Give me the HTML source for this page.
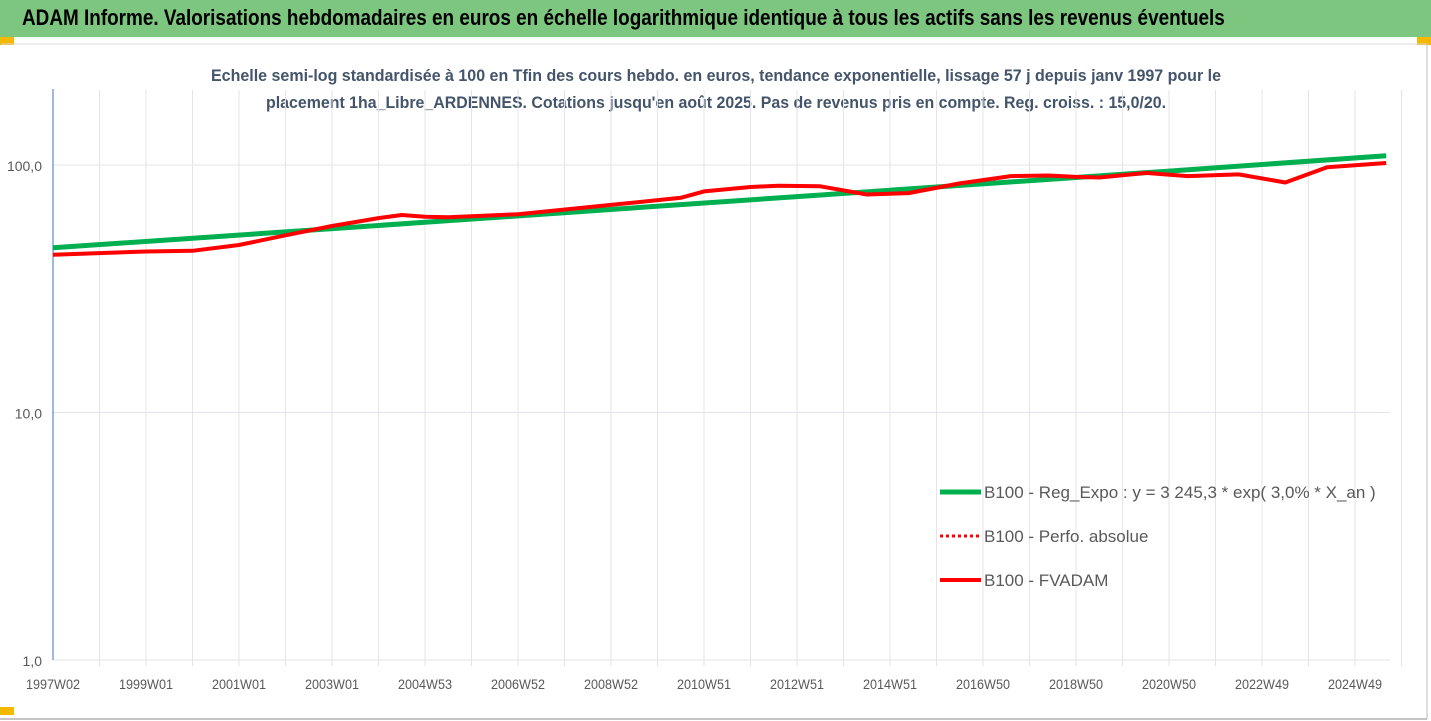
<!DOCTYPE html>
<html><head><meta charset="utf-8">
<style>
body{margin:0;width:1431px;height:721px;overflow:hidden;background:#fff;font-family:"Liberation Sans",sans-serif;}
#bar{position:absolute;left:0;top:0;width:1431px;height:37px;background:#7dc67f;}
#bar span{position:absolute;left:22px;top:5px;font-size:22px;font-weight:bold;color:#000;transform:scaleX(0.86);transform-origin:left;white-space:nowrap;}
.corner{position:absolute;width:14px;height:8px;background:#f5b800;}
svg{position:absolute;left:0;top:0;}
</style></head><body>
<div id="bar"><span>ADAM Informe. Valorisations hebdomadaires en euros en échelle logarithmique identique à tous les actifs sans les revenus éventuels</span></div>
<div class="corner" style="left:0;top:37px"></div>
<div class="corner" style="left:1417px;top:37px"></div>
<div class="corner" style="left:0;top:707px"></div>
<svg id="chart" width="1431" height="721">
<line x1="1" y1="44" x2="1427" y2="44" stroke="#d9d9d9"/>
<line x1="1427" y1="44" x2="1427" y2="719" stroke="#bfbfbf"/>
<line x1="0" y1="719" x2="1427" y2="719" stroke="#888"/>
<text x="716" y="81" text-anchor="middle" font-size="17" font-weight="bold" fill="#44546a" textLength="1010" lengthAdjust="spacingAndGlyphs">Echelle semi-log standardisée à 100 en Tfin des cours hebdo. en euros, tendance exponentielle, lissage 57 j depuis janv 1997 pour le</text>
<text x="716" y="108" text-anchor="middle" font-size="17" font-weight="bold" fill="#44546a" textLength="900" lengthAdjust="spacingAndGlyphs">placement 1ha_Libre_ARDENNES. Cotations jusqu'en août 2025. Pas de revenus pris en compte. Reg. croiss. : 15,0/20.</text>
<g id="grid"></g><g id="series"></g><g id="legend"></g>
</svg>
<script>
const yTicks=[1,10,100];
const yTickLabels=["1,0","10,0","100,0"];
const xTickLabels=["1997W02","1999W01","2001W01","2003W01","2004W53","2006W52","2008W52","2010W51","2012W51","2014W51","2016W50","2018W50","2020W50","2022W49","2024W49"];
const xTickYears=[1997,1999,2001,2003,2005,2007,2009,2011,2013,2015,2017,2019,2021,2023,2025];
const fvYears=[1997,1999,2000,2001,2002,2003,2004,2004.5,2005,2005.5,2007,2009,2010.5,2011,2012,2012.6,2013.5,2014.5,2015.4,2016.5,2017.6,2018.4,2019,2019.5,2020.5,2021.4,2022.5,2023.5,2024.4,2025.67];
const fvValues=[43.4,44.7,45,47.5,52,56.7,61,62.8,61.8,61.5,63.3,69,73.7,78.2,81.5,82.5,82,76,77,84.3,90.2,90.7,89.5,89,92.9,90.2,91.6,85,98,101.9];
const regYears=[1997,2005,2013,2021,2025.67];
const regValues=[46.3,58.7,74.5,94.5,109];
const X0=53,PX=46.5,Y1=660,DEC=247.5;
const xs=y=>X0+(y-1997)*PX;
const ys=v=>Y1-Math.log10(v)*DEC;
const NS="http://www.w3.org/2000/svg";
function mk(tag,attrs,parent){const e=document.createElementNS(NS,tag);for(const k in attrs)e.setAttribute(k,attrs[k]);parent.appendChild(e);return e;}
const grid=document.getElementById('grid');
for(let i=1;i<=29;i++){const x=X0+i*PX;const l=mk('line',{x1:x,y1:90,x2:x,y2:666,stroke:'#e4e4ea'},grid);

}
yTicks.forEach((v,i)=>{const y=ys(v);const l=mk('line',{x1:X0,y1:y,x2:1390,y2:y,stroke:'#e4e4ea'},grid);


const t=mk('text',{x:42,y:y+6,'text-anchor':'end','font-size':14,fill:'#595959'},grid);t.textContent=yTickLabels[i];

});
const ax=mk('line',{x1:X0,y1:89,x2:X0,y2:660,stroke:'#4472c4'},grid);


xTickLabels.forEach((s,i)=>{const t=mk('text',{x:xs(xTickYears[i]),y:689,'text-anchor':'middle','font-size':14,fill:'#595959',textLength:54,lengthAdjust:'spacingAndGlyphs'},grid);t.textContent=s;

});
const ser=document.getElementById('series');
function path(xa,va){return xa.map((y,i)=>(i?'L':'M')+xs(y).toFixed(1)+' '+ys(va[i]).toFixed(1)).join(' ');}
const g=mk('path',{d:path(regYears,regValues),stroke:'#00b050',fill:'none','stroke-width':5},ser);


const r=mk('path',{d:path(fvYears,fvValues),stroke:'#ff0000',fill:'none','stroke-width':4,'stroke-linejoin':'round'},ser);


const lg=document.getElementById('legend');
const items=[["B100 - Reg_Expo : y = 3 245,3 * exp( 3,0% *  X_an )",'#00b050',5,''],["B100 - Perfo. absolue",'#ff0000',3,'3 3'],["B100 - FVADAM",'#ff0000',4,'']];
items.forEach((it,i)=>{const y=492+i*44;const l=mk('line',{x1:940,y1:y,x2:981,y2:y,stroke:it[1],'stroke-width':it[2],'stroke-dasharray':it[3]},lg);


const t=mk('text',{x:984,y:y+6,'font-size':17,fill:'#595959'},lg);t.textContent=it[0];

});
</script>
</body></html>
